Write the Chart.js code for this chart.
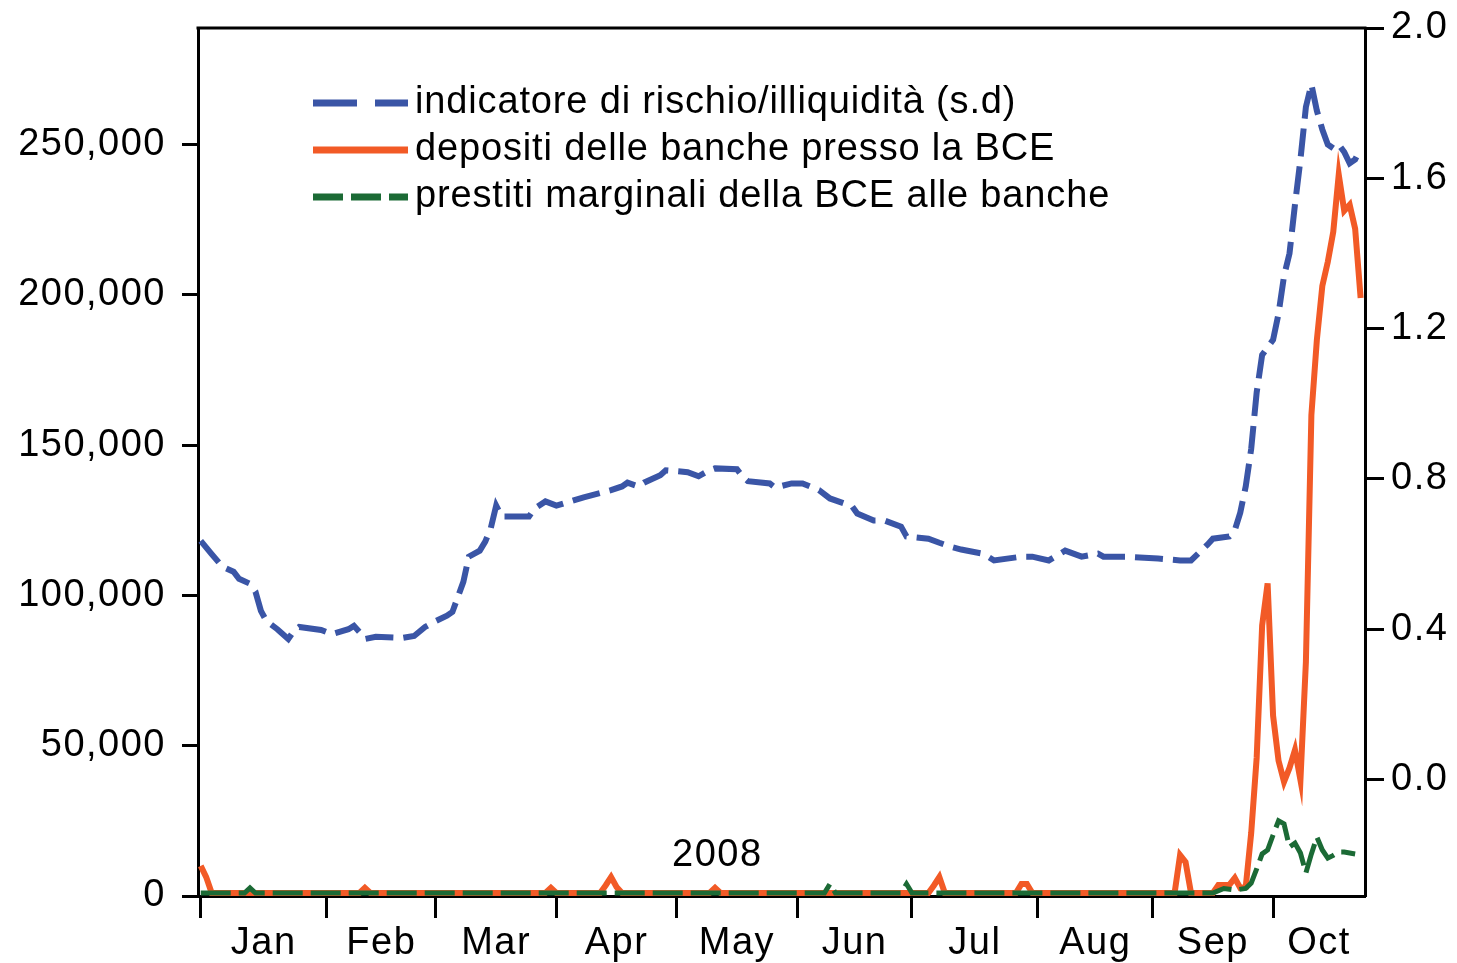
<!DOCTYPE html>
<html>
<head>
<meta charset="utf-8">
<script src="https://cdn.jsdelivr.net/npm/chart.js@4.4.1/dist/chart.umd.min.js"></script>
<style>
  body { margin: 0; background: #fff; }
</style>
</head>
<body>
<canvas id="chart" width="1457" height="963"></canvas>
<script>
// series names (legend)
const seriesNames = [
  'indicatore di rischio/illiquidità (s.d)',
  'depositi delle banche presso la BCE',
  'prestiti marginali della BCE alle banche'
];

// x axis: business days of 2008, month starts and names
const monthNames = ['Jan', 'Feb', 'Mar', 'Apr', 'May', 'Jun', 'Jul', 'Aug', 'Sep', 'Oct'];
const monthStarts = [0, 23, 43, 65, 87, 109, 130, 153, 174, 196];
const yearLabel = '2008';

// tick labels
const leftTicks = [0, 50000, 100000, 150000, 200000, 250000];
const rightTicks = [0.0, 0.4, 0.8, 1.2, 1.6, 2.0];

// risk/illiquidity indicator (right axis)
const riskDays = [0, 2, 4, 6, 7, 9, 10, 11, 12, 14, 16, 17, 18, 22, 24, 27, 28, 29, 30, 32,
  37, 39, 41, 43, 45, 46, 48, 49, 51, 52, 53, 54, 55, 60, 61, 63, 65, 70, 75, 77,
  78, 80, 81, 84, 85, 89, 91, 93, 94, 98, 99, 100, 104, 105, 108, 110, 113, 115, 119, 120,
  123, 125, 128, 129, 133, 135, 137, 139, 143, 145, 150, 152, 155, 158, 161, 164, 165, 169, 175, 179,
  181, 184, 185, 188, 189, 190, 191, 192, 193, 194, 195, 196, 197, 198, 199, 200, 201, 202, 203, 204,
  205, 206, 207, 208, 209, 210, 211, 212];
const riskValues = [0.635, 0.60, 0.566, 0.553, 0.534, 0.521, 0.50, 0.449, 0.422, 0.40, 0.374, 0.395, 0.406, 0.398, 0.387, 0.40, 0.409, 0.393, 0.374, 0.38,
  0.377, 0.382, 0.406, 0.422, 0.436, 0.446, 0.526, 0.593, 0.609, 0.633, 0.668, 0.729, 0.70, 0.70, 0.721, 0.74, 0.729, 0.751, 0.77, 0.78,
  0.79, 0.78, 0.79, 0.81, 0.823, 0.818, 0.807, 0.823, 0.828, 0.826, 0.807, 0.794, 0.788, 0.777, 0.788, 0.788, 0.77, 0.748, 0.728, 0.708,
  0.689, 0.689, 0.673, 0.647, 0.641, 0.63, 0.62, 0.612, 0.601, 0.583, 0.593, 0.593, 0.583, 0.609, 0.593, 0.601, 0.593, 0.593, 0.588, 0.583,
  0.583, 0.625, 0.641, 0.647, 0.663, 0.71, 0.78, 0.88, 1.03, 1.13, 1.15, 1.17, 1.24, 1.34, 1.40, 1.53, 1.65, 1.79, 1.85, 1.78,
  1.73, 1.69, 1.68, 1.69, 1.67, 1.64, 1.65, 1.68];

// bank deposits at the ECB (left axis)
const depositDays = [0, 1, 2, 29, 30, 31, 63, 64, 65, 73, 74, 75, 76, 77, 93, 94, 95, 133, 134, 135,
  136, 149, 150, 151, 152, 178, 179, 180, 181, 185, 186, 187, 188, 189, 190, 191, 192, 193, 194, 195,
  196, 197, 198, 199, 200, 201, 202, 203, 204, 205, 206, 207, 208, 209, 210, 211, 212];
const depositValues = [10000, 6300, 1000, 1000, 2700, 1000, 1000, 2700, 1000, 1000, 3500, 6300, 3000, 1000, 1000, 2700, 1000, 1000, 3500, 6300,
  1000, 1000, 4000, 4000, 1000, 1000, 13600, 11300, 1000, 1000, 3700, 3700, 3700, 6000, 2700, 3000, 21000, 46000, 90000, 104000,
  60000, 45000, 38000, 42600, 48600, 38600, 78000, 160000, 185000, 203000, 211000, 221000, 240000, 228000, 230000, 222000, 199000];

// ECB marginal lending to banks (left axis)
const lendingDays = [0, 8, 9, 10, 114, 115, 116, 128, 129, 130, 185, 187, 189, 191, 192, 193, 194, 195, 196, 197,
  198, 199, 200, 201, 202, 203, 204, 205, 206, 207, 208, 209, 210, 211];
const lendingValues = [1000, 1000, 2700, 1000, 1000, 4000, 1000, 1000, 4000, 1000, 1000, 2500, 2000, 2500, 4300, 9000, 14000, 15300, 20300, 25000,
  24000, 16300, 17600, 14300, 7700, 14000, 19600, 15300, 12600, 13500, 14600, 14600, 14300, 14000];

const FONT = "'Liberation Sans', Arial, sans-serif";
const xMax = 212.8;
const colors = ['#3a55a6', '#f25a26', '#1b6a35'];
const dashes = [[28, 10], [], [30, 8]];

function toPoints(xs, ys) {
  return xs.map((x, i) => ({ x: x, y: ys[i] }));
}

// month labels sit between the month-start ticks
const monthMids = monthStarts.map((v, i) => (v + (i + 1 < monthStarts.length ? monthStarts[i + 1] : xMax)) / 2);

function monthLabel(value) {
  const i = monthMids.findIndex(m => Math.abs(m - value) < 1e-6);
  return i >= 0 ? monthNames[i] : '';
}

// frame top line, legend and year label
const extras = {
  id: 'extras',
  beforeDraw(chart) {
    chart.ctx.letterSpacing = '1.5px';
  },
  afterDraw(chart) {
    const c = chart.ctx;
    const a = chart.chartArea;
    c.save();
    c.strokeStyle = '#000';
    c.lineWidth = 3;
    c.beginPath();
    c.moveTo(a.left - 1.5, a.top);
    c.lineTo(a.right + 1.5, a.top);
    c.stroke();

    c.font = '38px ' + FONT;
    c.fillStyle = '#000';
    c.textBaseline = 'middle';
    c.letterSpacing = '0.85px';
    seriesNames.forEach((name, i) => {
      const y = a.top + 75 + i * 47;
      c.strokeStyle = colors[i];
      c.lineWidth = 7;
      c.setLineDash(i === 0 ? [44, 18] : dashes[i]);
      c.beginPath();
      c.moveTo(a.left + 115, y);
      c.lineTo(a.left + 210, y);
      c.stroke();
      c.setLineDash([]);
      c.textAlign = 'left';
      c.fillText(name, a.left + 217, y);
    });

    c.letterSpacing = '1.5px';
    c.textAlign = 'center';
    c.fillText(yearLabel, a.left + 0.445 * (a.right - a.left), a.bottom - 40);
    c.restore();
  }
};

const ctx = document.getElementById('chart').getContext('2d');
new Chart(ctx, {
  type: 'line',
  data: {
    datasets: [
      {
        label: seriesNames[0], data: toPoints(riskDays, riskValues), yAxisID: 'y1',
        borderColor: colors[0], borderWidth: 6, borderDash: dashes[0], pointRadius: 0, order: 1
      },
      {
        label: seriesNames[1], data: toPoints(depositDays, depositValues), yAxisID: 'y',
        borderColor: colors[1], borderWidth: 6, pointRadius: 0, order: 2
      },
      {
        label: seriesNames[2], data: toPoints(lendingDays, lendingValues), yAxisID: 'y',
        borderColor: colors[2], borderWidth: 5, borderDash: dashes[2], pointRadius: 0, order: 0
      }
    ]
  },
  options: {
    responsive: false,
    animation: false,
    layout: { padding: { top: 28, left: 0, right: 0, bottom: 0 } },
    font: { family: FONT },
    plugins: { legend: { display: false }, tooltip: { enabled: false } },
    scales: {
      x: {
        type: 'linear', min: -0.5, max: xMax,
        afterBuildTicks: s => {
          s.ticks = monthStarts.concat(monthMids).sort((p, q) => p - q).map(v => ({ value: v }));
        },
        ticks: {
          autoSkip: false, maxRotation: 0, padding: 3, color: '#000',
          font: { family: FONT, size: 38 },
          callback: v => monthLabel(v)
        },
        grid: {
          drawOnChartArea: false, tickLength: 22, tickWidth: 3,
          tickColor: c => (c.tick && monthStarts.includes(c.tick.value)) ? '#000' : 'rgba(0,0,0,0)'
        },
        border: { color: '#000', width: 3 },
        afterFit: s => { s.height = 67; }
      },
      y: {
        position: 'left', min: 0, max: 288800,
        afterBuildTicks: s => { s.ticks = leftTicks.map(v => ({ value: v })); },
        ticks: {
          padding: 16, color: '#000', font: { family: FONT, size: 38 },
          callback: v => v.toLocaleString('en-US')
        },
        grid: { drawOnChartArea: false, tickLength: 16, tickWidth: 3, tickColor: '#000' },
        border: { color: '#000', width: 3 },
        afterFit: s => { s.width = 198; s.paddingTop = 0; s.paddingBottom = 0; }
      },
      y1: {
        position: 'right', min: -0.31, max: 2.0,
        afterBuildTicks: s => { s.ticks = rightTicks.map(v => ({ value: v })); },
        ticks: {
          padding: 7, color: '#000', font: { family: FONT, size: 38 },
          callback: v => v.toFixed(1)
        },
        grid: { drawOnChartArea: false, tickLength: 19, tickWidth: 3, tickColor: '#000' },
        border: { color: '#000', width: 3 },
        afterFit: s => { s.width = 92; s.paddingTop = 0; s.paddingBottom = 0; }
      }
    }
  },
  plugins: [extras]
});
</script>
</body>
</html>
